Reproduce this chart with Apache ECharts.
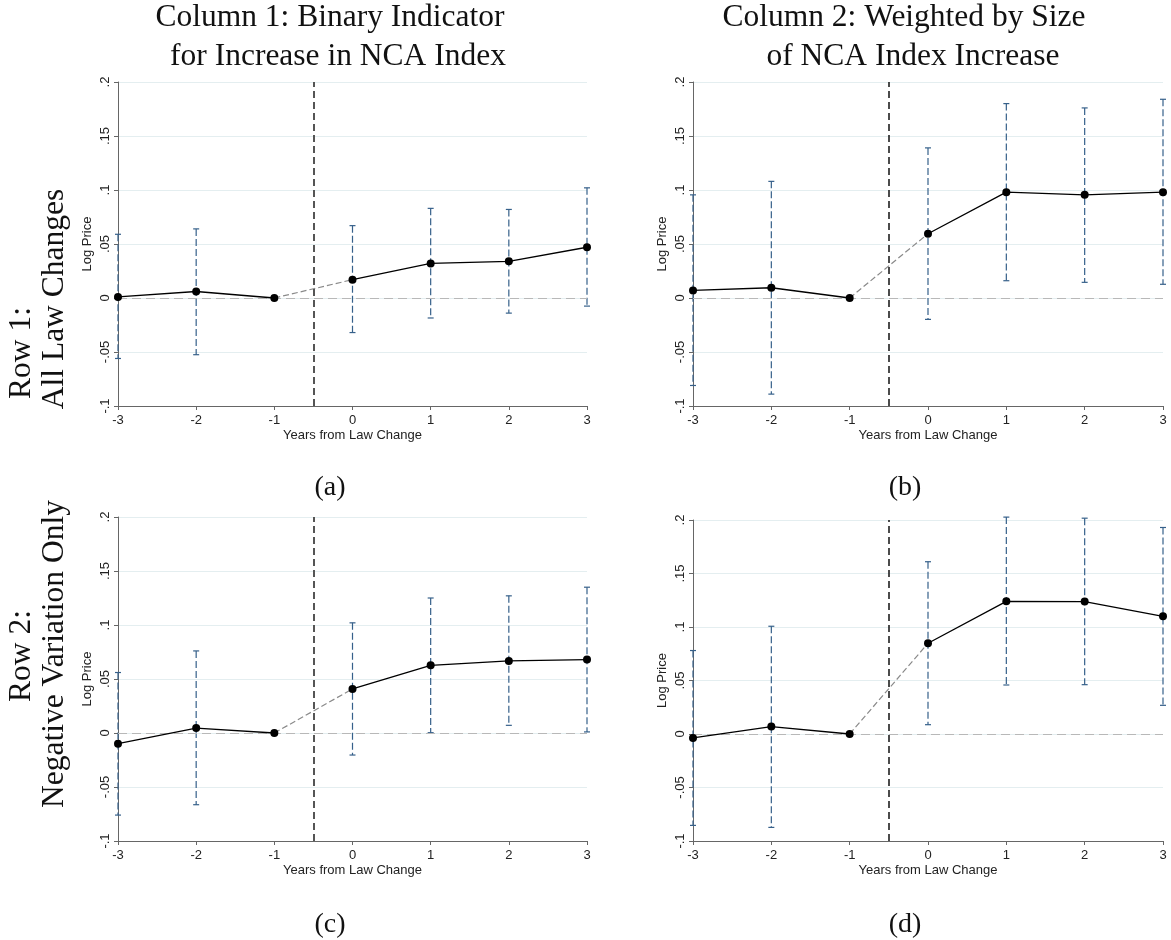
<!DOCTYPE html>
<html><head><meta charset="utf-8">
<script src="https://cdn.jsdelivr.net/npm/echarts@6/dist/echarts.min.js"></script>
<style>html,body{margin:0;padding:0;background:#fff}#c{width:1171px;height:940px}</style>
</head><body><div id="c"></div>
<script>
const years = [-3, -2, -1, 0, 1, 2, 3];
const yTicks = ['-.1', '-.05', '0', '.05', '.1', '.15', '.2'];

const aCoef = [0.001, 0.006, 0, 0.017, 0.032, 0.034, 0.047];
const aLo   = [-0.056, -0.0525, null, -0.032, -0.0185, -0.014, -0.0075];
const aHi   = [0.059, 0.064, null, 0.067, 0.083, 0.082, 0.102];

const bCoef = [0.007, 0.0095, 0, 0.0595, 0.098, 0.0955, 0.098];
const bLo   = [-0.081, -0.089, null, -0.0198, 0.016, 0.0145, 0.0127];
const bHi   = [0.0955, 0.108, null, 0.139, 0.180, 0.176, 0.184];

const cCoef = [-0.0099, 0.0046, 0, 0.0408, 0.0627, 0.0667, 0.068];
const cLo   = [-0.076, -0.0664, null, -0.0204, 0.0003, 0.0071, 0.001];
const cHi   = [0.056, 0.076, null, 0.102, 0.125, 0.127, 0.135];

const dCoef = [-0.0037, 0.0069, 0, 0.0848, 0.124, 0.1238, 0.110];
const dLo   = [-0.0854, -0.0873, null, 0.0087, 0.0458, 0.0461, 0.0268];
const dHi   = [0.078, 0.1007, null, 0.161, 0.2027, 0.2017, 0.193];

const panels = [
  {coef: aCoef, lo: aLo, hi: aHi, grid: {left: 118, top: 82, width: 469, height: 324}, vline: {color: '#555', width: 2}},
  {coef: bCoef, lo: bLo, hi: bHi, grid: {left: 693, top: 82, width: 470, height: 324}, vline: {color: '#111', width: 1.5}},
  {coef: cCoef, lo: cLo, hi: cHi, grid: {left: 118, top: 517, width: 469, height: 324}, vline: {color: '#555', width: 2}},
  {coef: dCoef, lo: dLo, hi: dHi, grid: {left: 693, top: 520, width: 470, height: 321}, vline: {color: '#111', width: 1.5}}
];

const SANS = '"Liberation Sans", Arial, sans-serif';
const SERIF = '"Liberation Serif", "Times New Roman", serif';
const barColor = '#36608a';

function yFmt(v) {
  const idx = Math.round((v + 0.1) / 0.05);
  return yTicks[idx] !== undefined ? yTicks[idx] : '';
}

const option = {
  animation: false,
  backgroundColor: '#fff',
  grid: [], xAxis: [], yAxis: [], series: [],
  graphic: []
};

panels.forEach((p, i) => {
  option.grid.push(Object.assign({containLabel: false}, p.grid));
  option.xAxis.push({
    type: 'value', gridIndex: i, min: -3, max: 3, interval: 1,
    name: 'Years from Law Change', nameLocation: 'middle', nameGap: 23,
    nameTextStyle: {fontFamily: SANS, fontSize: 13, color: '#222'},
    axisLine: {show: true, onZero: false, lineStyle: {color: '#666', width: 1}},
    axisTick: {show: true, length: 4, lineStyle: {color: '#666'}},
    axisLabel: {fontFamily: SANS, fontSize: 13, color: '#222', margin: 8},
    splitLine: {show: false}
  });
  option.yAxis.push({
    type: 'value', gridIndex: i, min: -0.1, max: 0.2, interval: 0.05,
    name: 'Log Price', nameLocation: 'middle', nameGap: 24,
    nameTextStyle: {fontFamily: SANS, fontSize: 13, color: '#222'},
    axisLine: {show: true, onZero: false, lineStyle: {color: '#666', width: 1}},
    axisTick: {show: true, length: 4, lineStyle: {color: '#666'}},
    axisLabel: {fontFamily: SANS, fontSize: 13, color: '#222', rotate: 90, margin: 6, formatter: yFmt},
    splitLine: {show: true, lineStyle: {color: '#e4eef0', width: 1.2}}
  });

  // reference lines
  option.series.push({
    type: 'line', xAxisIndex: i, yAxisIndex: i, data: [], silent: true, z: 1,
    markLine: {
      silent: true, symbol: 'none', label: {show: false}, animation: false,
      data: [
        {yAxis: 0, lineStyle: {color: '#b8b8b8', width: 1.2, type: [9, 5]}},
        {xAxis: -0.5, lineStyle: {color: p.vline.color, width: p.vline.width, type: [7, 4]}}
      ]
    }
  });

  // error bars
  const ci = years.map((y, k) => [y, p.lo[k], p.hi[k]]).filter(d => d[1] !== null);
  option.series.push({
    type: 'custom', xAxisIndex: i, yAxisIndex: i, clip: false, z: 3,
    encode: {x: 0, y: [1, 2]},
    data: ci,
    renderItem: function (params, api) {
      const x = api.value(0), lo = api.value(1), hi = api.value(2);
      const top = api.coord([x, hi]), bot = api.coord([x, lo]);
      const w = 3;
      return {type: 'group', children: [
        {type: 'line', shape: {x1: top[0], y1: top[1], x2: bot[0], y2: bot[1]},
         style: {stroke: barColor, lineWidth: 1.2, lineDash: [7, 3]}},
        {type: 'line', shape: {x1: top[0] - w, y1: top[1], x2: top[0] + w, y2: top[1]},
         style: {stroke: barColor, lineWidth: 1.2}},
        {type: 'line', shape: {x1: bot[0] - w, y1: bot[1], x2: bot[0] + w, y2: bot[1]},
         style: {stroke: barColor, lineWidth: 1.2}}
      ]};
    }
  });

  // connector -1 -> 0 (dashed grey)
  option.series.push({
    type: 'line', xAxisIndex: i, yAxisIndex: i, z: 4,
    data: [[years[2], p.coef[2]], [years[3], p.coef[3]]],
    symbol: 'none', lineStyle: {color: '#8a8a8a', width: 1.2, type: [6, 3]}
  });
  // pre-period
  option.series.push({
    type: 'line', xAxisIndex: i, yAxisIndex: i, z: 5,
    data: years.slice(0, 3).map((y, k) => [y, p.coef[k]]),
    symbol: 'circle', symbolSize: 8,
    itemStyle: {color: '#000'}, lineStyle: {color: '#000', width: 1.3}
  });
  // post-period
  option.series.push({
    type: 'line', xAxisIndex: i, yAxisIndex: i, z: 5,
    data: years.slice(3).map((y, k) => [y, p.coef[k + 3]]),
    symbol: 'circle', symbolSize: 8,
    itemStyle: {color: '#000'}, lineStyle: {color: '#000', width: 1.3}
  });
});

function txt(t, x, y, size, rot) {
  return {type: 'text', x: x, y: y, rotation: rot || 0, silent: true,
    style: {text: t, font: size + 'px ' + SERIF, fill: '#111', align: 'center', verticalAlign: 'middle'}};
}
option.graphic = [
  txt('Column 1: Binary Indicator', 330, 18, 31.5),
  txt('for Increase in NCA Index', 338, 57, 31.5),
  txt('Column 2: Weighted by Size', 904, 18, 31.5),
  txt('of NCA Index Increase', 913, 57, 31.5),
  txt('Row 1:', 22, 353, 31.5, Math.PI / 2),
  txt('All Law Changes', 55, 299, 31.5, Math.PI / 2),
  txt('Row 2:', 22, 656, 31.5, Math.PI / 2),
  txt('Negative Variation Only', 55, 654, 31.5, Math.PI / 2),
  txt('(a)', 330, 488, 28),
  txt('(b)', 905, 488, 28),
  txt('(c)', 330, 925, 28),
  txt('(d)', 905, 925, 28)
];

const chart = echarts.init(document.getElementById('c'), null, {renderer: 'canvas'});
chart.setOption(option);
</script>
</body></html>
